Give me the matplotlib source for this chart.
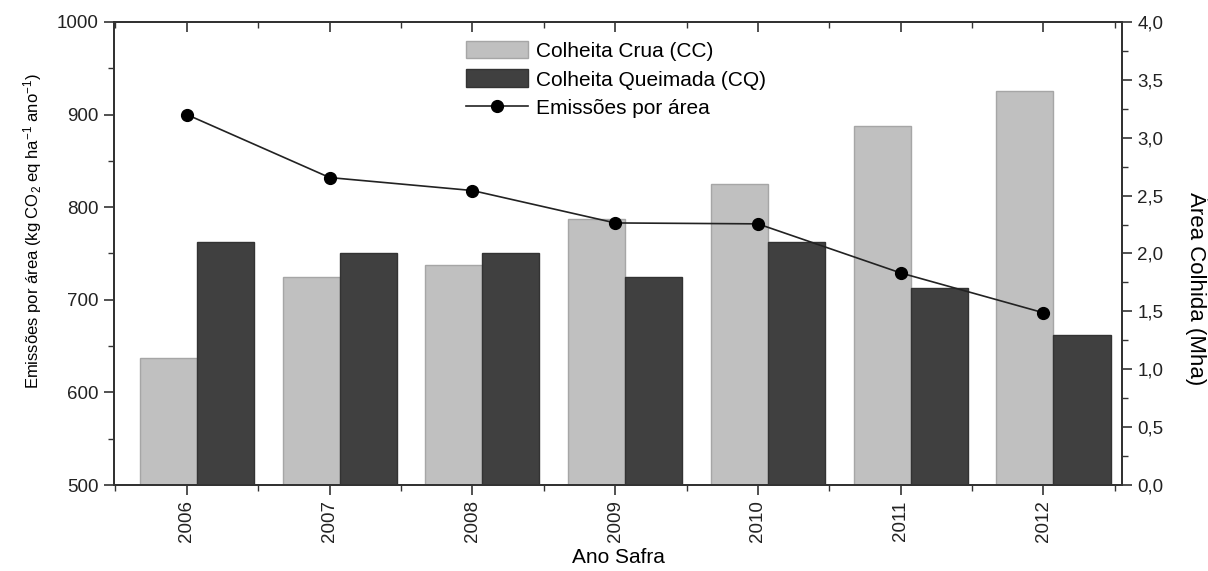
import numpy as np
import matplotlib.pyplot as plt
from matplotlib.ticker import MultipleLocator, FixedLocator, FuncFormatter

# safra years and harvested area (Mha) by harvest type
anos = ['2006', '2007', '2008', '2009', '2010', '2011', '2012']
area_cc = [1.1, 1.8, 1.9, 2.3, 2.6, 3.1, 3.4]
area_cq = [2.1, 2.0, 2.0, 1.8, 2.1, 1.7, 1.3]

# emissions per area (kg CO2 eq ha-1 ano-1)
emissoes = [900, 832, 818, 783, 782, 729, 686]

plt.rcParams['font.family'] = ['Liberation Sans', 'DejaVu Sans']
plt.rcParams['mathtext.fontset'] = 'custom'
plt.rcParams['mathtext.rm'] = 'Liberation Sans'
plt.rcParams['mathtext.it'] = 'Liberation Sans'

spine_col = '#333333'

fig = plt.figure(figsize=(12.08, 5.71), dpi=100)
ax = fig.add_axes([0.0944, 0.1506, 0.8344, 0.8109])
ax2 = ax.twinx()

x = np.arange(len(anos))
w = 0.4
meios = list(np.arange(-0.5, 7.0, 1.0))

# bars go on the right (area) axis
b1 = ax2.bar(x - 0.13, area_cc, w, color='#c0c0c0', edgecolor='#a6a6a6',
             linewidth=1.0, label='Colheita Crua (CC)')
b2 = ax2.bar(x + 0.27, area_cq, w, color='#404040', edgecolor='#333333',
             linewidth=1.0, label='Colheita Queimada (CQ)')

# emissions line sits above the bars
ax.set_zorder(ax2.get_zorder() + 1)
ax.patch.set_visible(False)
l1, = ax.plot(x, emissoes, color='#222222', linewidth=1.2, marker='o',
              markersize=8.5, markerfacecolor='black', markeredgecolor='black',
              label='Emissões por área')

ax.set_xlim(-0.51, 6.55)
ax.set_ylim(500, 1000)
ax2.set_ylim(0, 4.0)

# axis ticks
ax.set_xticks(x)
ax.set_xticklabels(anos, rotation=90)
ax.xaxis.set_minor_locator(FixedLocator(meios))
ax.yaxis.set_major_locator(MultipleLocator(100))
ax.yaxis.set_minor_locator(MultipleLocator(50))
ax2.yaxis.set_major_locator(MultipleLocator(0.5))
ax2.yaxis.set_minor_locator(MultipleLocator(0.25))
ax2.yaxis.set_major_formatter(FuncFormatter(lambda v, p: f'{v:.1f}'.replace('.', ',')))

ax.tick_params(axis='both', which='major', direction='out', length=7, width=1.2,
               color=spine_col, labelsize=13.5, labelcolor='#222222', pad=4)
ax.tick_params(axis='both', which='minor', direction='out', length=4, width=1.0,
               color=spine_col)
ax2.tick_params(axis='y', which='major', direction='out', length=7, width=1.2,
                color=spine_col, labelsize=13.5, labelcolor='#222222', pad=4)
ax2.tick_params(axis='y', which='minor', direction='out', length=4, width=1.0,
                color=spine_col)

# mirrored ticks along the top edge, pointing inward
top = ax.secondary_xaxis('top')
top.set_xticks(x)
top.set_xticklabels([])
top.xaxis.set_minor_locator(FixedLocator(meios))
top.tick_params(which='major', direction='in', length=7, width=1.2, color=spine_col)
top.tick_params(which='minor', direction='in', length=4, width=1.0, color=spine_col)

for a in (ax, ax2, top):
    for s in a.spines.values():
        s.set_color(spine_col)
        s.set_linewidth(1.4)

ax.set_xlabel('Ano Safra', fontsize=15, labelpad=4)
ax.set_ylabel('Emissões por área (kg CO$_2$ eq ha$^{-1}$ ano$^{-1}$)', fontsize=12)
ax.yaxis.label.set_va('center')
ax.yaxis.set_label_coords(-0.081, 0.549)
ax2.set_ylabel('Área Colhida (Mha)', fontsize=16, rotation=270)
ax2.yaxis.label.set_va('center')
ax2.yaxis.set_label_coords(1.075, 0.425)

ax.legend([b1, b2, l1],
          ['Colheita Crua (CC)', 'Colheita Queimada (CQ)', 'Emissões por área'],
          loc='upper left', bbox_to_anchor=(0.349, 0.96), frameon=False,
          fontsize=15, handlelength=3.0, handleheight=0.95,
          handletextpad=0.35, labelspacing=0.42, borderpad=0, borderaxespad=0)

fig.savefig('out.png', dpi=100)
